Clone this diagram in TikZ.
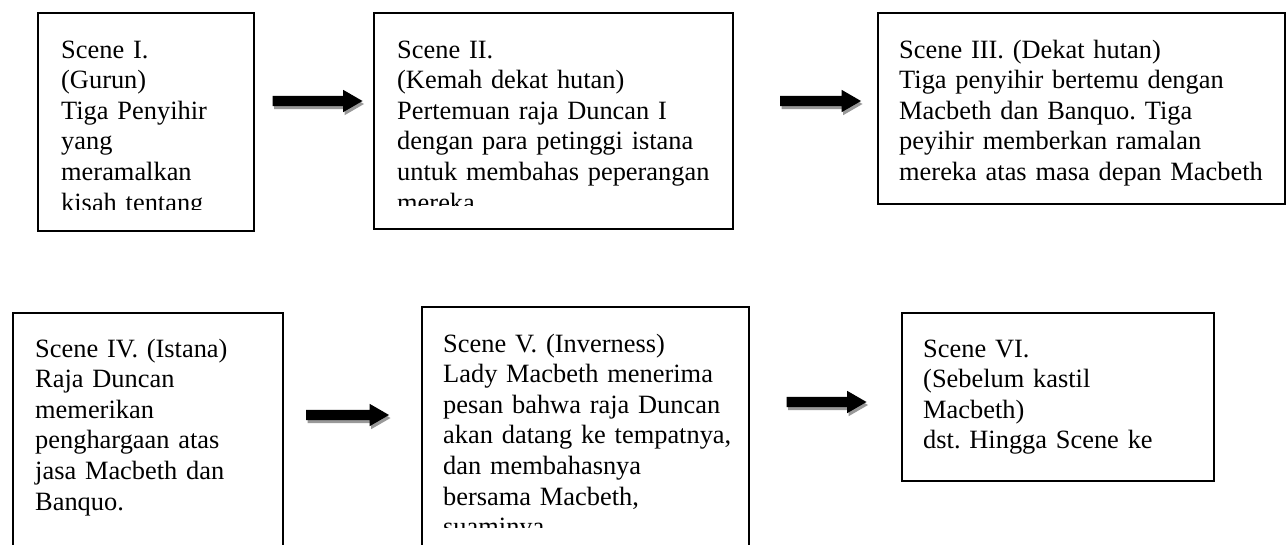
\documentclass[tikz,border=0pt]{standalone}
\usepackage{fontspec}
\setmainfont{Liberation Serif}
\usetikzlibrary{shapes.arrows,shadows}
\tikzset{
  scenebox/.style={draw=black, line width=2pt, fill=none, inner sep=0pt, anchor=north west},
  scenetext/.style={font=\fontsize{26.4pt}{30.6pt}\selectfont\frenchspacing, anchor=base west, inner sep=0pt, text width=420pt, align=left},
  blockarrow/.style={shape=single arrow, fill=black, draw=none, inner xsep=0pt, inner ysep=5pt,
    single arrow head extend=6pt, single arrow tip angle=60, single arrow head indent=0pt,
    drop shadow={shadow xshift=1.5pt, shadow yshift=-3pt, fill=black!40, opacity=1}}
}
\begin{document}
\begin{tikzpicture}[x=1pt,y=-1pt]
\useasboundingbox (0,0) rectangle (1286,544);
\fill[white] (0,0) rectangle (1286,544);
\clip (0,0) rectangle (1286,544);
% top row
\node[scenebox, minimum width=216pt, minimum height=218pt] (b1) at (37,12) {};
\node[scenebox, minimum width=359pt, minimum height=216pt] (b2) at (373,12) {};
\node[scenebox, minimum width=407pt, minimum height=191pt] (b3) at (877,12) {};
% bottom row
\node[scenebox, minimum width=270pt, minimum height=260pt] (b4) at (12,312) {};
\node[scenebox, minimum width=327pt, minimum height=260pt] (b5) at (421,306) {};
\node[scenebox, minimum width=312pt, minimum height=168pt] (b6) at (901,312) {};
% texts
\begin{scope}
\clip (37,12) rectangle (253,209);
\node[scenetext] (t1) at (61,58) {Scene I.\\(Gurun)\\Tiga Penyihir\\yang\\meramalkan\\kisah tentang};
\end{scope}
\begin{scope}
\clip (373,12) rectangle (732,205);
\node[scenetext] (t2) at (397,58) {Scene II.\\(Kemah dekat hutan)\\Pertemuan raja Duncan I\\dengan para petinggi istana\\untuk membahas peperangan\\mereka};
\end{scope}
\node[scenetext] (t3) at (899,58) {Scene III. (Dekat hutan)\\Tiga penyihir bertemu dengan\\Macbeth dan Banquo. Tiga\\peyihir memberkan ramalan\\mereka atas masa depan Macbeth};
\node[scenetext] (t4) at (35,357) {Scene IV. (Istana)\\Raja Duncan\\memerikan\\penghargaan atas\\jasa Macbeth dan\\Banquo.};
\begin{scope}
\clip (421,306) rectangle (748,527);
\node[scenetext] (t5) at (443,352) {Scene V. (Inverness)\\Lady Macbeth menerima\\pesan bahwa raja Duncan\\akan datang ke tempatnya,\\dan membahasnya\\bersama Macbeth,\\suaminya};
\end{scope}
\node[scenetext] (t6) at (923,357) {Scene VI.\\(Sebelum kastil\\Macbeth)\\dst. Hingga Scene ke};
% arrows
\node[blockarrow, minimum height=90pt] (a1) at (313,101) {};
\node[blockarrow, minimum height=81pt] (a2) at (816,101) {};
\node[blockarrow, minimum height=83pt] (a3) at (343,415) {};
\node[blockarrow, minimum height=80pt] (a4) at (822,402) {};
\end{tikzpicture}
\end{document}
